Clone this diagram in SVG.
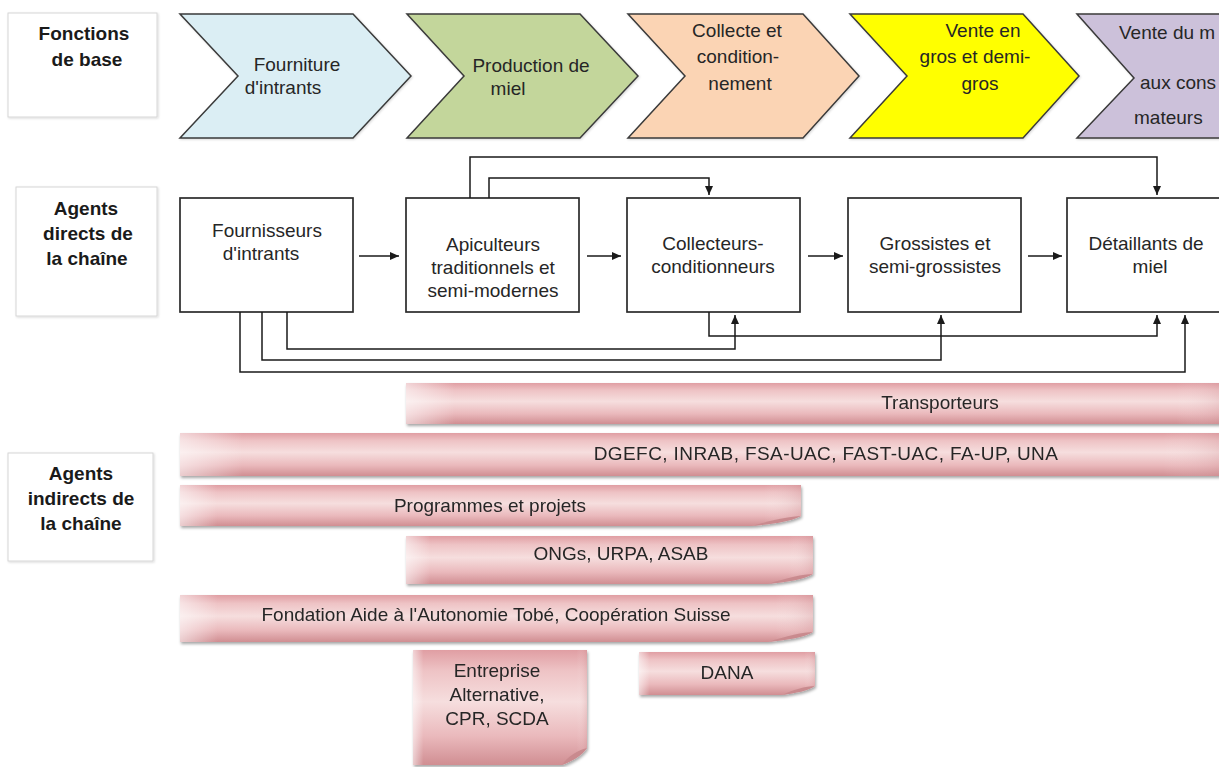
<svg xmlns="http://www.w3.org/2000/svg" width="1219" height="767" viewBox="0 0 1219 767">
  <style>
    .t { font-family: "Liberation Sans", Arial, sans-serif; font-size: 19px; fill: #262626; }
    .m { text-anchor: middle; }
    .b { font-weight: bold; fill: #1a1a1a; }
    .lbl { fill: #ffffff; stroke: #d6d6d6; stroke-width: 1; }
    .chev { stroke: #3a3a3a; stroke-width: 1.5; stroke-linejoin: miter; }
    .box { fill: #ffffff; stroke: #2b2b2b; stroke-width: 1.7; }
    .con { fill: none; stroke: #1a1a1a; stroke-width: 1.5; }
    .bar { fill: url(#pinkV); }
    .barH { fill: url(#pinkH); }
    .fold { fill: #c98a8e; }
  </style>
  <defs>
    <marker id="ah" markerWidth="10" markerHeight="10" refX="9" refY="5" orient="auto" markerUnits="userSpaceOnUse">
      <path d="M0,1 L9,5 L0,9 Z" fill="#1a1a1a"/>
    </marker>
    <linearGradient id="pinkV" x1="0" y1="0" x2="0" y2="1">
      <stop offset="0" stop-color="#e09ea3"/>
      <stop offset="0.18" stop-color="#eec3c5"/>
      <stop offset="0.45" stop-color="#f6dede"/>
      <stop offset="0.75" stop-color="#eab9bc"/>
      <stop offset="1" stop-color="#d08e92"/>
    </linearGradient>
    <linearGradient id="pinkH" x1="0" y1="0" x2="1" y2="0">
      <stop offset="0" stop-color="#ffffff" stop-opacity="0.55"/>
      <stop offset="0.06" stop-color="#ffffff" stop-opacity="0"/>
      <stop offset="0.94" stop-color="#ffffff" stop-opacity="0"/>
      <stop offset="1" stop-color="#c98a8e" stop-opacity="0.25"/>
    </linearGradient>
    <filter id="sh" x="-5%" y="-10%" width="110%" height="130%">
      <feDropShadow dx="1" dy="2" stdDeviation="1.4" flood-color="#000" flood-opacity="0.35"/>
    </filter>
    <filter id="shL" x="-5%" y="-10%" width="110%" height="130%">
      <feDropShadow dx="1" dy="1" stdDeviation="1.2" flood-color="#000" flood-opacity="0.15"/>
    </filter>
  </defs>

  <!-- Row labels -->
  <g id="label-fonctions">
    <rect class="lbl" x="8" y="13" width="149" height="104" filter="url(#shL)"/>
    <text class="t m b" x="84" y="40">Fonctions</text>
    <text class="t m b" x="87" y="66">de base</text>
  </g>
  <g id="label-directs">
    <rect class="lbl" x="16" y="187" width="141" height="129" filter="url(#shL)"/>
    <text class="t m b" x="86" y="215">Agents</text>
    <text class="t m b" x="88" y="240">directs de</text>
    <text class="t m b" x="87" y="265">la chaîne</text>
  </g>
  <g id="label-indirects">
    <rect class="lbl" x="8" y="453" width="145" height="108" filter="url(#shL)"/>
    <text class="t m b" x="81" y="480">Agents</text>
    <text class="t m b" x="81" y="505">indirects de</text>
    <text class="t m b" x="81" y="530">la chaîne</text>
  </g>

  <!-- Basic functions (chevrons) -->
  <g id="fn-fourniture">
    <path class="chev" fill="#dbeef4" filter="url(#shL)" d="M180,14 H353 L411,76 L353,138 H180 L238,76 Z"/>
    <text class="t m" x="297" y="71">Fourniture</text>
    <text class="t m" x="283" y="94">d'intrants</text>
  </g>
  <g id="fn-production">
    <path class="chev" fill="#c3d69b" filter="url(#shL)" d="M407,14 H580 L638,76 L580,138 H407 L464,76 Z"/>
    <text class="t m" x="531" y="72">Production de</text>
    <text class="t m" x="508" y="95">miel</text>
  </g>
  <g id="fn-collecte">
    <path class="chev" fill="#fbd4b4" filter="url(#shL)" d="M628,14 H803 L859,76 L803,138 H628 L685,76 Z"/>
    <text class="t m" x="737" y="37">Collecte et</text>
    <text class="t m" x="738" y="63">condition-</text>
    <text class="t m" x="740" y="90">nement</text>
  </g>
  <g id="fn-gros">
    <path class="chev" fill="#ffff00" filter="url(#shL)" d="M850,14 H1023 L1079,76 L1023,138 H850 L907,76 Z"/>
    <text class="t m" x="983" y="37">Vente en</text>
    <text class="t m" x="975" y="63">gros et demi-</text>
    <text class="t m" x="980" y="90">gros</text>
  </g>
  <g id="fn-detail">
    <path class="chev" fill="#ccc1da" filter="url(#shL)" d="M1077,14 H1250 L1308,76 L1250,138 H1077 L1134,78 Z"/>
    <text class="t" x="1119" y="39">Vente du m</text>
    <text class="t" x="1140" y="89">aux cons</text>
    <text class="t" x="1134" y="124">mateurs</text>
  </g>

  <!-- Direct agents -->
  <g id="fournisseurs">
    <rect class="box" x="180" y="198" width="173" height="114"/>
    <text class="t m" x="267" y="237">Fournisseurs</text>
    <text class="t m" x="261" y="260">d'intrants</text>
  </g>
  <g id="apiculteurs">
    <rect class="box" x="406" y="198" width="173" height="114"/>
    <text class="t m" x="493" y="251">Apiculteurs</text>
    <text class="t m" x="493" y="274">traditionnels et</text>
    <text class="t m" x="493" y="297">semi-modernes</text>
  </g>
  <g id="collecteurs">
    <rect class="box" x="627" y="198" width="173" height="114"/>
    <text class="t m" x="713" y="250">Collecteurs-</text>
    <text class="t m" x="713" y="273">conditionneurs</text>
  </g>
  <g id="grossistes">
    <rect class="box" x="848" y="198" width="173" height="114"/>
    <text class="t m" x="935" y="250">Grossistes et</text>
    <text class="t m" x="935" y="273">semi-grossistes</text>
  </g>
  <g id="detaillants">
    <rect class="box" x="1067" y="198" width="180" height="114"/>
    <text class="t m" x="1146" y="250">Détaillants de</text>
    <text class="t m" x="1150" y="273">miel</text>
  </g>

  <!-- Flows between direct agents -->
  <g id="connectors">
    <path class="con" marker-end="url(#ah)" d="M359,256 H399"/>
    <path class="con" marker-end="url(#ah)" d="M587,256 H621"/>
    <path class="con" marker-end="url(#ah)" d="M808,256 H843"/>
    <path class="con" marker-end="url(#ah)" d="M1028,256 H1062"/>
    <path class="con" marker-end="url(#ah)" d="M470,198 V157 H1157 V195"/>
    <path class="con" marker-end="url(#ah)" d="M489,198 V178 H709 V195"/>
    <path class="con" marker-end="url(#ah)" d="M287,312 V349 H735 V315"/>
    <path class="con" marker-end="url(#ah)" d="M262,312 V360 H941 V315"/>
    <path class="con" marker-end="url(#ah)" d="M240,312 V372 H1185 V315"/>
    <path class="con" marker-end="url(#ah)" d="M709,312 V336 H1157 V315"/>
  </g>

  <!-- Indirect agents -->
  <g id="transporteurs" filter="url(#sh)">
    <path class="bar" d="M406,383 H1225 V424 H406 Z"/>
    <path class="barH" d="M406,383 H1225 V424 H406 Z"/>
    <text class="t m" x="940" y="409">Transporteurs</text>
  </g>
  <g id="recherche" filter="url(#sh)">
    <path class="bar" d="M180,433 H1225 V476 H180 Z"/>
    <path class="barH" d="M180,433 H1225 V476 H180 Z"/>
    <text class="t m" x="826" y="460" letter-spacing="0.4">DGEFC, INRAB, FSA-UAC, FAST-UAC, FA-UP, UNA</text>
  </g>
  <g id="programmes" filter="url(#sh)">
    <path class="bar" d="M180,485 H801 V516 C796,518 780,522 752,526 H180 Z"/>
    <path class="barH" d="M180,485 H801 V516 C796,518 780,522 752,526 H180 Z"/>
    <path class="fold" d="M801,516 C792,516 772,520 752,526 C772,524 790,522 801,516 Z"/>
    <text class="t m" x="490" y="512">Programmes et projets</text>
  </g>
  <g id="ongs" filter="url(#sh)">
    <path class="bar" d="M406,536 H813 V574 C808,576 792,580 768,584 H406 Z"/>
    <path class="barH" d="M406,536 H813 V574 C808,576 792,580 768,584 H406 Z"/>
    <path class="fold" d="M813,574 C804,574 786,578 768,584 C786,582 804,580 813,574 Z"/>
    <text class="t m" x="621" y="560">ONGs, URPA, ASAB</text>
  </g>
  <g id="fondation" filter="url(#sh)">
    <path class="bar" d="M180,595 H813 V632 C808,634 792,638 768,642 H180 Z"/>
    <path class="barH" d="M180,595 H813 V632 C808,634 792,638 768,642 H180 Z"/>
    <path class="fold" d="M813,632 C804,632 786,636 768,642 C786,640 804,638 813,632 Z"/>
    <text class="t m" x="496" y="621">Fondation Aide à l'Autonomie Tobé, Coopération Suisse</text>
  </g>
  <g id="entreprise" filter="url(#sh)">
    <path class="bar" d="M413,650 H587 V748 C584,752 576,760 562,765 H413 Z"/>
    <path class="barH" d="M413,650 H587 V748 C584,752 576,760 562,765 H413 Z"/>
    <path class="fold" d="M587,748 C578,750 568,756 562,765 C572,761 582,756 587,748 Z"/>
    <text class="t m" x="497" y="677">Entreprise</text>
    <text class="t m" x="497" y="701">Alternative,</text>
    <text class="t m" x="497" y="725">CPR, SCDA</text>
  </g>
  <g id="dana" filter="url(#sh)">
    <path class="bar" d="M639,652 H815 V686 C811,688 800,692 782,695 H639 Z"/>
    <path class="barH" d="M639,652 H815 V686 C811,688 800,692 782,695 H639 Z"/>
    <path class="fold" d="M815,686 C806,686 792,690 782,695 C796,693 808,691 815,686 Z"/>
    <text class="t m" x="727" y="679">DANA</text>
  </g>
</svg>
